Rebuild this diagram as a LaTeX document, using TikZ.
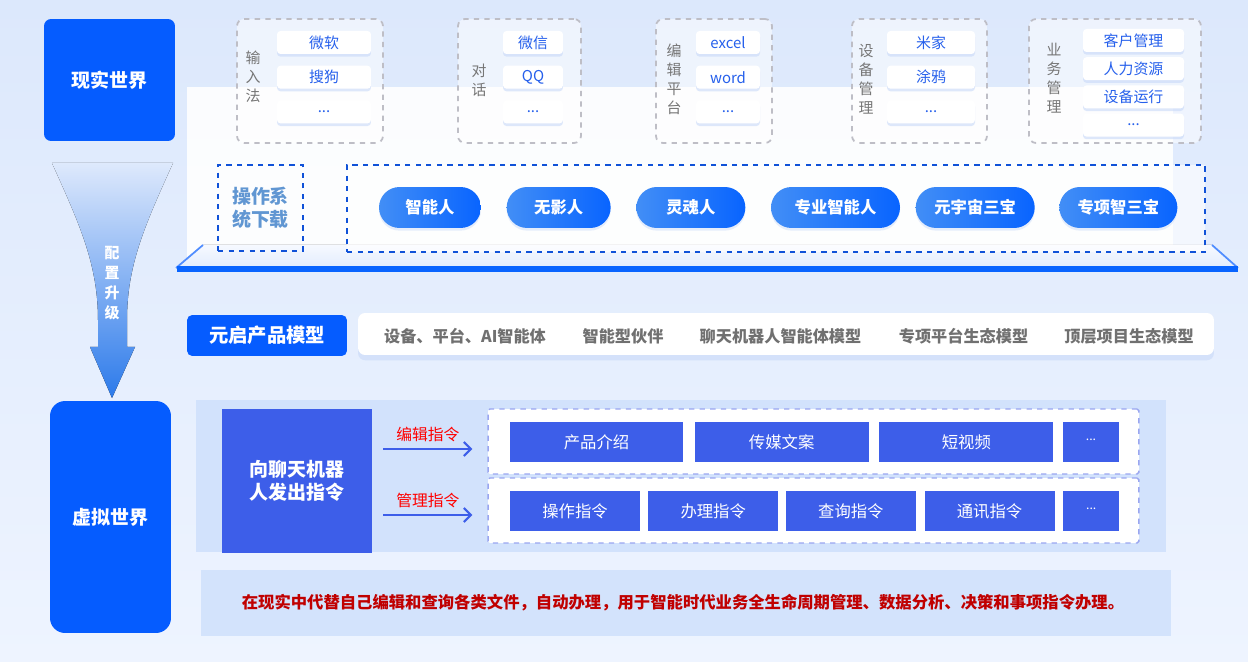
\documentclass[tikz,border=0pt]{standalone}
\usepackage{fontspec}
\setmainfont{Noto Sans CJK SC}
\usetikzlibrary{positioning,arrows.meta,shadows}
\definecolor{WorldBlue}{RGB}{5,92,255}
\definecolor{PillLeft}{RGB}{66,142,246}
\definecolor{PillRight}{RGB}{8,100,255}
\definecolor{ItemBlue}{RGB}{38,96,236}
\definecolor{GroupGray}{RGB}{190,190,198}
\definecolor{LabelGray}{RGB}{118,118,118}
\definecolor{DashBlue}{RGB}{16,82,216}
\definecolor{OsText}{RGB}{96,150,210}
\definecolor{ModelGray}{RGB}{112,112,112}
\definecolor{CmdBlue}{RGB}{61,94,233}
\definecolor{PanelBlue}{RGB}{210,226,252}
\definecolor{RowDash}{RGB}{154,166,240}
\definecolor{GlowBlue}{RGB}{200,217,248}

\begin{document}
\begin{tikzpicture}[x=0.02cm, y=-0.02cm, every node/.style={align=center, inner sep=0pt},
  world/.style={fill=WorldBlue, text=white, font=\fontsize{10.8}{13}\selectfont\bfseries},
  group/.style={draw=GroupGray, dashed, line width=1pt, rounded corners=4pt, fill=white, fill opacity=0.5, text opacity=1, minimum height=2.48cm},
  glabel/.style={text=LabelGray, font=\fontsize{8.5}{10.8}\selectfont},
  titem/.style={fill=white, rounded corners=2pt, minimum height=0.46cm, text=ItemBlue, font=\fontsize{8.5}{10}\selectfont, drop shadow={shadow xshift=0pt, shadow yshift=-1.5pt, fill=GlowBlue, opacity=0.6}},
  bluedash/.style={draw=DashBlue, dashed, line width=1.1pt},
  pill/.style={rounded corners=0.41cm, minimum height=0.82cm, left color=PillLeft, right color=PillRight, text=white, font=\fontsize{9.3}{11}\selectfont\bfseries, drop shadow={shadow xshift=0pt, shadow yshift=-1.5pt, fill=GlowBlue, opacity=0.45}},
  model/.style={text=ModelGray, font=\fontsize{9.2}{11}\selectfont\bfseries},
  cmditem/.style={fill=CmdBlue, minimum height=0.8cm, text=white, font=\fontsize{9.3}{11}\selectfont},
  rowbox/.style={draw=RowDash, dashed, line width=0.8pt, fill=white, rounded corners=1pt, minimum width=13.02cm, minimum height=1.3cm},
  cmdarrow/.style={-{Straight Barb[length=4pt, width=8pt]}, CmdBlue, line width=1.2pt},
  cmdlabel/.style={text=red, font=\fontsize{9}{11}\selectfont}
]
\useasboundingbox (0,0) rectangle (1248,662);
\fill[top color={rgb,255:red,220;green,232;blue,252}, bottom color={rgb,255:red,238;green,244;blue,255}] (0,0) rectangle (1248,662);

% worlds and the funnel between them
\node[world, rounded corners=4pt, minimum width=2.62cm, minimum height=2.44cm] (real) at (109.5,80) {现实世界};
\node[world, rounded corners=0.3cm, minimum width=2.42cm, minimum height=4.64cm] (virt) at (110.5,517) {虚拟世界};
\fill[top color={rgb,255:red,222;green,233;blue,252}, bottom color={rgb,255:red,44;green,122;blue,234}]
  (52,163) .. controls (80,225) and (98,265) .. (98,320) -- (98,347) -- (90,347) -- (112,398)
  -- (135,347) -- (127,347) -- (127,320) .. controls (127,265) and (145,225) .. (173,163) -- cycle;
\node[text=white, font=\fontsize{8.5}{11.3}\selectfont\bfseries] (upgrade) at (112,283) {配\\置\\升\\级};

% platform
\fill[white, opacity=0.9] (187,87) rectangle (1173,262);
\fill[top color={rgb,255:red,246;green,249;blue,255}, bottom color={rgb,255:red,226;green,236;blue,253}] (203,245) -- (1212,245) -- (1238,268) -- (176,268) -- cycle;
\draw[WorldBlue!70, line width=1pt] (176,268) -- (203,245) (1238,268) -- (1212,245);
\fill[PillRight] (177,266) rectangle (1238,272);

% top groups
\node[group, minimum width=2.92cm] (ime) at (310,81) {};
\node[glabel] (imel) at (253,77) {输\\入\\法};
\node[titem, minimum width=1.88cm] (ime1) at (324,42.5) {微软};
\node[titem, minimum width=1.88cm, below=0.22cm of ime1] (ime2) {搜狗};
\node[titem, minimum width=1.88cm, below=0.22cm of ime2] (ime3) {...};

\node[group, minimum width=2.46cm] (chat) at (519.5,81) {};
\node[glabel] (chatl) at (479,80.5) {对\\话};
\node[titem, minimum width=1.2cm] (chat1) at (533,42.5) {微信};
\node[titem, minimum width=1.2cm, below=0.22cm of chat1] (chat2) {QQ};
\node[titem, minimum width=1.2cm, below=0.22cm of chat2] (chat3) {...};

\node[group, minimum width=2.32cm] (edit) at (714,81) {};
\node[glabel] (editl) at (674,79.5) {编\\辑\\平\\台};
\node[titem, minimum width=1.28cm] (edit1) at (728,42.5) {excel};
\node[titem, minimum width=1.28cm, below=0.22cm of edit1] (edit2) {word};
\node[titem, minimum width=1.28cm, below=0.22cm of edit2] (edit3) {...};

\node[group, minimum width=2.7cm] (dev) at (919.5,81) {};
\node[glabel] (devl) at (866,79) {设\\备\\管\\理};
\node[titem, minimum width=1.76cm] (dev1) at (931,42.5) {米家};
\node[titem, minimum width=1.76cm, below=0.22cm of dev1] (dev2) {涂鸦};
\node[titem, minimum width=1.76cm, below=0.22cm of dev2] (dev3) {...};

\node[group, minimum width=3.44cm] (biz) at (1115,81) {};
\node[glabel] (bizl) at (1054,78) {业\\务\\管\\理};
\node[titem, minimum width=2.02cm] (biz1) at (1133.5,40.5) {客户管理};
\node[titem, minimum width=2.02cm, below=0.09cm of biz1] (biz2) {人力资源};
\node[titem, minimum width=2.02cm, below=0.09cm of biz2] (biz3) {设备运行};
\node[titem, minimum width=2.02cm, below=0.09cm of biz3] (biz4) {...};

% os download and agents
\node[bluedash, minimum width=1.7cm, minimum height=1.72cm, text=OsText, font=\fontsize{10.8}{13}\selectfont\bfseries] (os) at (260.5,208) {操作系\\统下载};
\node[bluedash, fill=white, fill opacity=0.6, minimum width=17.16cm, minimum height=1.74cm] (agents) at (776,208.5) {};
\node[pill, minimum width=2.04cm] (p1) at (430,207.5) {智能人};
\node[pill, minimum width=2.08cm, right=0.5cm of p1] (p2) {无影人};
\node[pill, minimum width=2.18cm, right=0.5cm of p2] (p3) {灵魂人};
\node[pill, minimum width=2.58cm, right=0.5cm of p3] (p4) {专业智能人};
\node[pill, minimum width=2.38cm, right=0.3cm of p4] (p5) {元宇宙三宝};
\node[pill, minimum width=2.36cm, right=0.48cm of p5] (p6) {专项智三宝};

% product models
\node[fill=WorldBlue, rounded corners=3pt, minimum width=3.2cm, minimum height=0.82cm, text=white, font=\fontsize{11}{13}\selectfont\bfseries] (mtitle) at (267,335.5) {元启产品模型};
\node[fill=white, rounded corners=4pt, minimum width=17.12cm, minimum height=0.84cm, drop shadow={shadow xshift=0pt, shadow yshift=-3pt, fill=GlowBlue, opacity=0.6}] (mstrip) at (786,334) {};
\node[model] (m1) at (465,336) {设备、平台、AI智能体};
\node[model] (m2) at (623,336) {智能型伙伴};
\node[model] (m3) at (780.5,336) {聊天机器人智能体模型};
\node[model] (m4) at (963.5,336) {专项平台生态模型};
\node[model] (m5) at (1129,336) {顶层项目生态模型};

% chatbot commands
\fill[PanelBlue] (196,400) rectangle (1166,552);
\node[fill=CmdBlue, minimum width=3cm, minimum height=2.88cm, text=white, font=\fontsize{10.8}{13.5}\selectfont\bfseries] (cmd) at (297,481) {向聊天机器\\人发出指令};
\node[rowbox] (editrow) at (813.5,441.5) {};
\node[rowbox] (mgmtrow) at (813.5,510.5) {};

\node[cmditem, minimum width=3.46cm] (e1) at (596.5,442) {产品介绍};
\node[cmditem, minimum width=3.48cm, right=0.22cm of e1] (e2) {传媒文案};
\node[cmditem, minimum width=3.48cm, right=0.2cm of e2] (e3) {短视频};
\node[cmditem, minimum width=1.12cm, right=0.18cm of e3] (e4) {\raisebox{0.3em}{\fontsize{7}{8}\selectfont ...}};

\node[cmditem, minimum width=2.6cm] (g1) at (575,511) {操作指令};
\node[cmditem, minimum width=2.6cm, right=0.15cm of g1] (g2) {办理指令};
\node[cmditem, minimum width=2.6cm, right=0.14cm of g2] (g3) {查询指令};
\node[cmditem, minimum width=2.6cm, right=0.16cm of g3] (g4) {通讯指令};
\node[cmditem, minimum width=1.12cm, right=0.16cm of g4] (g5) {\raisebox{0.3em}{\fontsize{7}{8}\selectfont ...}};

\coordinate (ea) at (383,449);
\coordinate (ma) at (383,515);
\draw[cmdarrow, shorten >=0.3cm] (ea) -- (ea -| editrow.west) node[cmdlabel, pos=0.43, above=0.12cm] {编辑指令};
\draw[cmdarrow, shorten >=0.3cm] (ma) -- (ma -| mgmtrow.west) node[cmdlabel, pos=0.43, above=0.12cm] {管理指令};

% summary
\node[fill={rgb,255:red,211;green,227;blue,252}, minimum width=19.4cm, minimum height=1.32cm] (desc) at (686,603) {};
\node[text={rgb,255:red,192;green,0;blue,0}, font=\fontsize{9.3}{11}\selectfont\bfseries] (desctext) at (683,603) {在现实中代替自己编辑和查询各类文件，自动办理，用于智能时代业务全生命周期管理、数据分析、决策和事项指令办理。};
\end{tikzpicture}
\end{document}
